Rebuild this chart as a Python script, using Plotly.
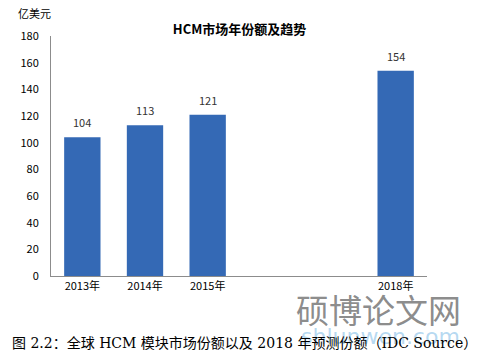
import plotly.graph_objects as go

years = ["2013年", "2014年", "2015年", "2018年"]
positions = [0, 1, 2, 5]
values = [104, 113, 121, 154]
y_ticks = [0, 20, 40, 60, 80, 100, 120, 140, 160, 180]

cjk = "Noto Sans CJK SC, Noto Sans, sans-serif"

fig = go.Figure()
fig.add_trace(go.Bar(
    x=positions, y=values, width=0.58,
    marker=dict(color="#3469B5", line=dict(width=0)),
))

for xp, v in zip(positions, values):
    fig.add_annotation(x=xp, y=v, text=str(v), showarrow=False,
                       yanchor="bottom", yshift=5,
                       font=dict(family=cjk, size=11, color="#333333"))

fig.update_layout(
    width=482, height=360,
    margin=dict(l=51, r=55, t=36, b=84),
    paper_bgcolor="white", plot_bgcolor="white",
    showlegend=False,
    title=dict(text="<b>HCM市场年份额及趋势</b>", x=0.497, xanchor="center",
               y=0.917, yanchor="middle",
               font=dict(family=cjk, size=13, color="#000000")),
    xaxis=dict(range=[-0.5, 5.5], tickvals=positions, ticktext=years,
               showline=True, linecolor="#8c8c8c", linewidth=1,
               ticks="", showgrid=False, zeroline=False,
               tickfont=dict(family=cjk, size=11, color="#000000")),
    yaxis=dict(range=[0, 180], tickvals=y_ticks, showline=True,
               linecolor="#8c8c8c", linewidth=1, ticks="", showgrid=False,
               zeroline=False, ticklabelstandoff=9,
               tickfont=dict(family=cjk, size=11, color="#000000")),
)

fig.add_annotation(text="亿美元", xref="paper", yref="paper", x=-0.092, y=1.094,
                   xanchor="left", yanchor="middle", showarrow=False,
                   font=dict(family=cjk, size=11, color="#000000"))

# watermark
fig.add_annotation(text="硕博论文网", xref="paper", yref="paper", x=0.87, y=-0.138,
                   xanchor="center", yanchor="middle", showarrow=False,
                   font=dict(family=cjk, size=33, color="rgba(110,110,110,0.8)"))
fig.add_annotation(text="shlunwen.com", xref="paper", yref="paper", x=0.875, y=-0.25,
                   xanchor="center", yanchor="middle", showarrow=False,
                   font=dict(family="DejaVu Sans", size=22, color="rgba(120,185,230,0.55)"))

fig.add_annotation(text="图 2.2：全球 HCM 模块市场份额以及 2018 年预测份额（IDC Source）",
                   xref="paper", yref="paper", x=-0.109, y=-0.279,
                   xanchor="left", yanchor="middle", showarrow=False,
                   font=dict(family="DejaVu Serif, Noto Sans CJK SC, serif", size=14, color="#000000"))

fig.write_html("out.html", config={"displayModeBar": False},
               post_script="document.body.style.margin='0';document.body.style.padding='0';")
